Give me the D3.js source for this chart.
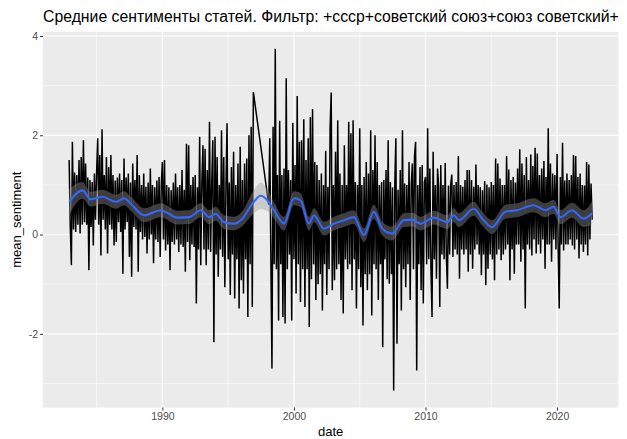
<!DOCTYPE html>
<html>
<head>
<meta charset="utf-8">
<script src="https://cdn.jsdelivr.net/npm/d3@7"></script>
<style>
  html, body { margin: 0; padding: 0; background: #ffffff; overflow: hidden; }
  svg { display: block; }
</style>
</head>
<body>
<svg id="chart" width="627" height="439"></svg>
<script>
// ---- data ----------------------------------------------------------------
const titleText = "Средние сентименты статей. Фильтр: +ссср+советский союз+союз советский+";
const xLabel = "date";
const yLabel = "mean_sentiment";

// first month of the monthly series (year, zero-based month)
const firstMonth = [1982, 11];

// mean sentiment per month; null = month without articles
const monthlySentiment = [
  1.50,                                                                        // 1982 (Dec)
  0.15, -0.62, 1.87, 0.10, 1.25, 0.05, 1.20, 0.20, 1.50, 0.02, 1.56, 0.20,      // 1983
  1.90, 0.25, 1.43, 0.20, 1.15, -0.72, 1.10, 0.15, 1.06, -0.22, 1.23, 0.30,     // 1984
  1.25, 1.94, 0.20, 1.60, -0.42, 2.12, 0.30, 1.20, 0.10, 1.56, -0.38, 1.36,     // 1985
  0.20, 1.60, 0.10, 1.20, -0.22, 1.09, -0.15, 1.15, 0.25, 1.23, 0.05, 1.10,     // 1986
  -0.79, 1.53, 0.10, 1.15, 0.25, 1.23, -0.45, 1.05, -0.85, 1.43, 0.15, 1.10,   // 1987
  0.10, 1.60, -0.75, 1.20, 0.05, 1.00, -0.10, 1.23, -0.05, 0.96, -0.38, 1.05,  // 1988
  -0.10, 1.33, 0.00, 1.00, -0.58, 0.95, -0.10, 1.09, -0.15, 1.16, -0.45, 1.00, // 1989
  1.46, -0.10, 1.50, -0.32, 1.00, -0.20, 0.95, -0.72, 0.89, -0.15, 1.05, -0.20, // 1990
  1.23, -0.10, 0.95, -0.35, 1.00, -0.20, 1.30, -0.25, 0.90, -0.75, 1.83, -0.15, // 1991
  1.80, -0.52, 1.00, -0.20, 1.16, -0.25, 1.20, -1.39, 0.95, -0.30, 1.97, -0.62, // 1992
  1.05, 1.80, -0.30, 1.73, -0.62, 1.30, -0.30, 2.27, -0.35, 1.00, 1.90, -2.17,  // 1993
  1.97, -0.40, 1.56, -0.85, 1.00, -0.30, 2.10, -0.45, 1.56, -1.06, 0.95, 2.24,  // 1994
  -0.50, 1.05, -1.22, 1.36, -0.40, 1.67, -1.29, 1.00, -0.50, 1.43, -1.49, 1.77, // 1995
  -0.92, 1.10, -1.19, 1.43, -0.50, 1.53, -1.66, 2.00, -0.60, 2.17, -1.46, 2.87, // 1996
  null, null, null, null, null, null, null, null, null, null, null, null,       // 1997
  null, 0.60, 1.94, -0.50, -2.70, 2.17, -0.60, 3.74, -0.70, 1.20, -1.73, 2.29,  // 1998
  -0.60, 1.20, -1.66, 1.33, -1.79, 3.15, -0.70, 1.30, -0.40, 1.10, -1.73, 2.25, // 1999
  -0.50, 1.40, -1.19, 2.79, -0.60, 1.87, -1.36, 1.90, -0.70, 2.32, -1.46, 1.50, // 2000
  -0.70, 1.94, -1.86, 2.37, -0.90, 2.53, -0.60, 1.46, -1.32, 1.40, -1.00, 1.10, // 2001
  -0.80, 1.23, -1.53, 1.00, -0.60, 1.69, -1.22, 0.96, -0.70, 2.14, 2.86, -1.12, // 2002
  1.00, -0.92, 1.67, -0.70, 2.30, -0.60, 1.23, -1.32, 1.00, -1.59, 1.80, -0.50, // 2003
  1.00, -0.70, 2.27, -0.60, 2.04, -1.12, 2.30, -0.50, 1.06, -1.49, 1.00, -0.70, // 2004
  2.14, -1.06, 1.00, -1.83, 1.16, -0.80, 1.46, -1.12, 1.23, -0.80, 2.10, -1.63, // 2005
  1.30, -0.60, 2.00, -0.70, 1.46, -1.32, 1.00, -0.60, 1.06, -2.27, 1.10, -0.50, // 2006
  1.30, -0.90, 1.90, -0.99, 1.06, -0.80, 0.95, -3.14, 1.00, 1.94, -2.20, 0.90,  // 2007
  -0.60, 1.30, -1.53, 2.10, -0.70, 1.03, -1.06, 1.00, -0.60, 1.46, -1.32, 1.00, // 2008
  1.43, -0.70, 1.58, 1.87, -2.74, 1.00, -0.60, 1.36, -1.12, 1.40, -1.39, 1.05,  // 2009
  1.16, -0.60, 2.14, -0.50, 1.33, -0.70, -1.66, 1.67, -0.50, 1.00, -0.89, 1.33, // 2010
  0.95, -1.46, 1.40, -0.40, 1.00, -0.50, 1.44, -0.40, -1.09, 0.99, -0.40, 1.00, // 2011
  1.21, -0.45, 1.00, -0.30, 1.06, -0.40, 1.58, -0.89, 1.00, -0.30, 0.96, -0.40, // 2012
  1.10, -0.30, 1.30, -0.75, 1.30, -0.40, 1.10, -0.69, 0.96, -0.30, 1.41, -0.20, // 2013
  1.00, -0.40, 0.95, -0.82, 0.89, -0.40, 1.08, -1.02, 1.01, -0.69, 0.95, -0.40, // 2014
  1.06, -0.50, 1.00, -0.92, 1.53, -0.40, 1.43, -0.30, 1.13, -0.52, 1.00, -0.40, // 2015
  1.00, -0.30, 1.58, -0.20, 1.31, -0.92, 1.10, -0.30, 1.16, -0.79, 1.05, -0.20, // 2016
  1.33, -0.20, 1.72, -0.55, 1.43, -0.30, 1.20, -1.49, 1.56, -0.20, 1.10, -0.30, // 2017
  1.61, -0.42, 1.38, -0.10, 1.75, -0.38, 1.63, -0.20, 1.20, -0.38, 1.33, -0.10, // 2018
  1.48, -0.69, 1.16, -0.20, 2.14, -0.20, 1.43, -0.55, 1.23, -0.10, 1.20, -0.30, // 2019
  1.62, -0.30, -1.49, 1.16, -0.20, 1.85, -0.32, 1.09, -0.20, 1.23, -0.20, 1.10, // 2020
  -0.10, 1.20, -0.22, 1.60, -0.30, 1.58, -0.10, 1.16, -0.48, 1.23, -0.20, 1.00, // 2021
  -0.35, 0.99, -0.20, 1.46, -0.42, 1.41, -0.10, 1.03, 0.30                      // 2022
];

// smoothed trend (decimal year, fitted mean, half-width of confidence band)
const smoothYears = [
  1982.92, 1983.93, 1984.56, 1985.45, 1986.47, 1987.09, 1987.60, 1988.61, 1989.88,
  1991.15, 1992.03, 1992.92, 1993.55, 1994.05, 1994.68, 1995.44, 1996.08, 1996.84,
  1997.47, 1997.98, 1998.48, 1999.24, 2000.00, 2000.51, 2001.14, 2001.52, 2002.28,
  2003.04, 2003.80, 2004.56, 2005.32, 2006.07, 2006.71, 2007.47, 2008.35, 2008.99,
  2009.62, 2010.63, 2011.65, 2012.15, 2012.53, 2013.67, 2014.31, 2015.06, 2016.07,
  2016.96, 2018.22, 2019.11, 2019.74, 2020.25, 2021.14, 2022.02, 2022.66
];
const smoothMean = [
  0.66, 0.89, 0.71, 0.76, 0.66, 0.73, 0.62, 0.39, 0.49,
  0.34, 0.35, 0.49, 0.35, 0.42, 0.25, 0.22, 0.32, 0.62,
  0.78, 0.69, 0.49, 0.22, 0.73, 0.69, 0.22, 0.39, 0.12,
  0.22, 0.29, 0.35, -0.01, 0.46, 0.12, 0.02, 0.29, 0.30,
  0.22, 0.34, 0.25, 0.39, 0.29, 0.52, 0.32, 0.15, 0.46,
  0.49, 0.59, 0.49, 0.56, 0.35, 0.49, 0.32, 0.43
];
const smoothHalfWidth = [
  0.26, 0.17, 0.15, 0.14, 0.14, 0.14, 0.14, 0.14, 0.14,
  0.14, 0.14, 0.14, 0.14, 0.14, 0.14, 0.14, 0.15, 0.22,
  0.27, 0.22, 0.16, 0.14, 0.14, 0.14, 0.14, 0.14, 0.14,
  0.14, 0.14, 0.14, 0.14, 0.14, 0.14, 0.14, 0.14, 0.14,
  0.14, 0.14, 0.14, 0.14, 0.14, 0.14, 0.14, 0.14, 0.14,
  0.14, 0.14, 0.14, 0.14, 0.14, 0.15, 0.17, 0.24
];

const xTickYears = [1990, 2000, 2010, 2020];
const xMinorYears = [1985, 1995, 2005, 2015];
const yTicks = [-2, 0, 2, 4];
const yMinorTicks = [-3, -1, 1, 3];

// ---- helpers -------------------------------------------------------------
function fromDecimalYear(y) {
  const yr = Math.floor(y);
  const start = new Date(yr, 0, 1).getTime();
  const end = new Date(yr + 1, 0, 1).getTime();
  return new Date(start + (y - yr) * (end - start));
}

const series = monthlySentiment
  .map((v, i) => ({ date: new Date(firstMonth[0], firstMonth[1] + i, 1), value: v }))
  .filter(d => d.value !== null);

const smooth = smoothYears.map((y, i) => ({
  date: fromDecimalYear(y),
  mean: smoothMean[i],
  lo: smoothMean[i] - smoothHalfWidth[i],
  hi: smoothMean[i] + smoothHalfWidth[i]
}));

// ---- layout --------------------------------------------------------------
const panel = { left: 43, right: 618.3, top: 31.8, bottom: 407.5 };

function expand(ext, f) {
  const span = ext[1] - ext[0];
  return [ext[0] - span * f, ext[1] + span * f];
}

const xExt = d3.extent(series, d => d.date).map(d => d.getTime());
const xDom = expand(xExt, 0.05).map(t => new Date(t));
const x = d3.scaleTime().domain(xDom).range([panel.left, panel.right]);

const yExt = d3.extent(series, d => d.value);
const y = d3.scaleLinear().domain(expand(yExt, 0.05)).range([panel.bottom, panel.top]);

const svg = d3.select("#chart");
const font = "'Liberation Sans', Arial, Helvetica, sans-serif";

// panel background
svg.append("rect")
  .attr("x", panel.left).attr("y", panel.top)
  .attr("width", panel.right - panel.left)
  .attr("height", panel.bottom - panel.top)
  .attr("fill", "#EBEBEB");

svg.append("clipPath").attr("id", "panel-clip")
  .append("rect")
  .attr("x", panel.left).attr("y", panel.top)
  .attr("width", panel.right - panel.left)
  .attr("height", panel.bottom - panel.top);

const grid = svg.append("g");
// minor grid
grid.selectAll("line.xminor").data(xMinorYears).join("line")
  .attr("x1", d => x(new Date(d, 0, 1))).attr("x2", d => x(new Date(d, 0, 1)))
  .attr("y1", panel.top).attr("y2", panel.bottom)
  .attr("stroke", "#FFFFFF").attr("stroke-width", 0.55);
grid.selectAll("line.yminor").data(yMinorTicks).join("line")
  .attr("x1", panel.left).attr("x2", panel.right)
  .attr("y1", d => y(d)).attr("y2", d => y(d))
  .attr("stroke", "#FFFFFF").attr("stroke-width", 0.55);
// major grid
grid.selectAll("line.xmajor").data(xTickYears).join("line")
  .attr("x1", d => x(new Date(d, 0, 1))).attr("x2", d => x(new Date(d, 0, 1)))
  .attr("y1", panel.top).attr("y2", panel.bottom)
  .attr("stroke", "#FFFFFF").attr("stroke-width", 1.1);
grid.selectAll("line.ymajor").data(yTicks).join("line")
  .attr("x1", panel.left).attr("x2", panel.right)
  .attr("y1", d => y(d)).attr("y2", d => y(d))
  .attr("stroke", "#FFFFFF").attr("stroke-width", 1.1);

const plot = svg.append("g").attr("clip-path", "url(#panel-clip)");

// monthly sentiment line
plot.append("path")
  .datum(series)
  .attr("fill", "none")
  .attr("stroke", "#000000")
  .attr("stroke-width", 1.5)
  .attr("stroke-linejoin", "bevel")
  .attr("d", d3.line().x(d => x(d.date)).y(d => y(d.value)));

// confidence band
plot.append("path")
  .datum(smooth)
  .attr("fill", "#999999")
  .attr("fill-opacity", 0.4)
  .attr("d", d3.area().x(d => x(d.date)).y0(d => y(d.lo)).y1(d => y(d.hi))
    .curve(d3.curveMonotoneX));

// fitted trend
plot.append("path")
  .datum(smooth)
  .attr("fill", "none")
  .attr("stroke", "#3366FF")
  .attr("stroke-width", 2.1)
  .attr("d", d3.line().x(d => x(d.date)).y(d => y(d.mean)).curve(d3.curveMonotoneX));

// axes
const xAxis = d3.axisBottom(x)
  .tickValues(xTickYears.map(yr => new Date(yr, 0, 1)))
  .tickFormat(d3.timeFormat("%Y"))
  .tickSize(3).tickPadding(2);
const gx = svg.append("g").attr("transform", `translate(0,${panel.bottom})`).call(xAxis);
gx.select(".domain").remove();
gx.selectAll(".tick line").attr("stroke", "#333333").attr("stroke-width", 1);
gx.selectAll(".tick text").attr("fill", "#4D4D4D").attr("font-size", 10.5)
  .attr("font-family", font);

const yAxis = d3.axisLeft(y).tickValues(yTicks).tickFormat(d3.format("d"))
  .tickSize(3).tickPadding(2);
const gy = svg.append("g").attr("transform", `translate(${panel.left},0)`).call(yAxis);
gy.select(".domain").remove();
gy.selectAll(".tick line").attr("stroke", "#333333").attr("stroke-width", 1);
gy.selectAll(".tick text").attr("fill", "#4D4D4D").attr("font-size", 10.5)
  .attr("font-family", font)
  .text(d => d < 0 ? "-" + Math.abs(d) : String(d));

// titles
svg.append("text")
  .attr("x", panel.left).attr("y", 22)
  .attr("font-family", font).attr("font-size", 15.8)
  .attr("fill", "#000000")
  .text(titleText);

svg.append("text")
  .attr("x", (panel.left + panel.right) / 2).attr("y", 436)
  .attr("text-anchor", "middle")
  .attr("font-family", font).attr("font-size", 13)
  .attr("fill", "#000000")
  .text(xLabel);

svg.append("text")
  .attr("transform", `translate(21,${(panel.top + panel.bottom) / 2}) rotate(-90)`)
  .attr("text-anchor", "middle")
  .attr("font-family", font).attr("font-size", 13)
  .attr("fill", "#000000")
  .text(yLabel);
</script>
</body>
</html>
